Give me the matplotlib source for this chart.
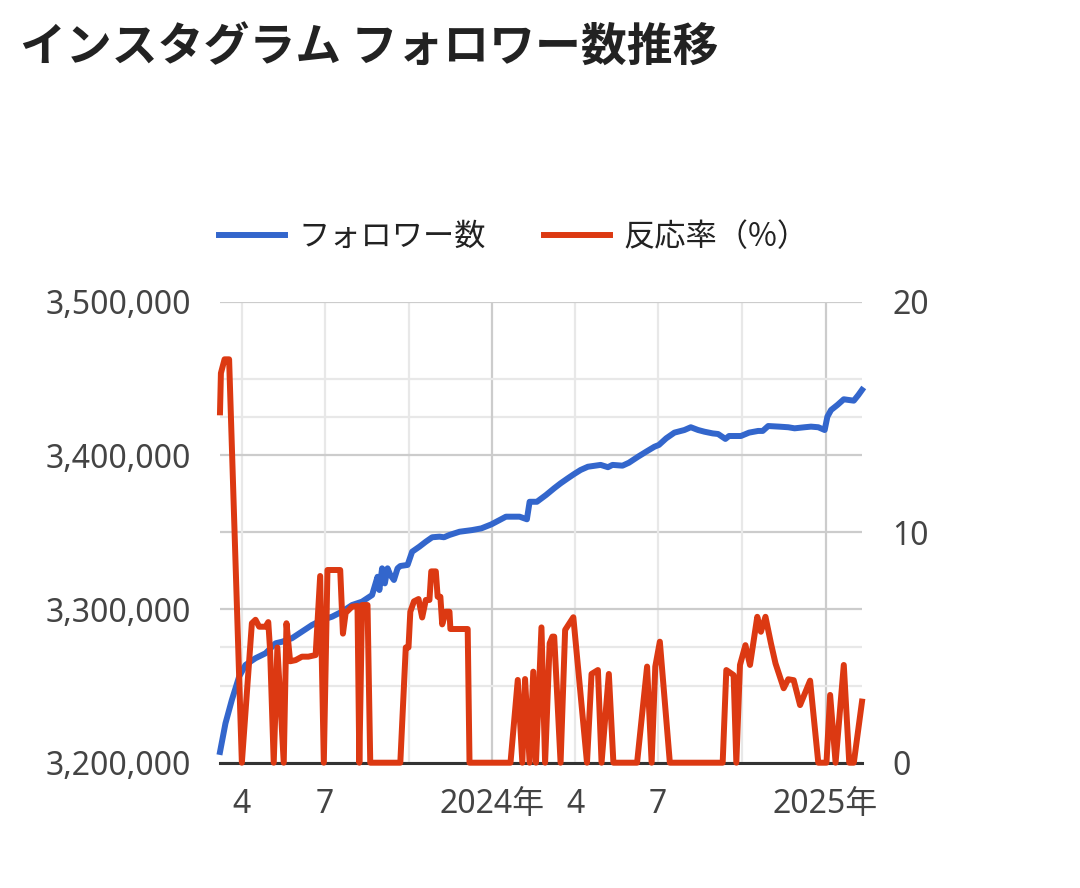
import matplotlib
matplotlib.use("Agg")
import matplotlib.pyplot as plt
import matplotlib.dates as mdates
from matplotlib.ticker import FuncFormatter
import pandas as pd

plt.rcParams['font.family'] = ['Noto Sans CJK JP', 'DejaVu Sans']

title = "インスタグラム フォロワー数推移"
follower_label = "フォロワー数"
rate_label = "反応率（%）"

# フォロワー数 (左軸)
follower_dates = [
    "2023-03-08", "2023-03-14", "2023-03-21", "2023-03-29", "2023-04-05", "2023-04-16",
    "2023-04-27", "2023-05-08", "2023-05-15", "2023-05-26", "2023-06-06", "2023-06-17",
    "2023-06-28", "2023-07-09", "2023-07-20", "2023-07-31", "2023-08-11", "2023-08-22",
    "2023-08-28", "2023-08-30", "2023-09-02", "2023-09-05", "2023-09-08", "2023-09-11",
    "2023-09-15", "2023-09-19", "2023-09-22", "2023-09-30", "2023-10-05", "2023-10-13",
    "2023-10-20", "2023-10-27", "2023-11-04", "2023-11-09", "2023-11-15", "2023-11-26",
    "2023-12-10", "2023-12-20", "2023-12-31", "2024-01-09", "2024-01-16", "2024-01-31",
    "2024-02-08", "2024-02-11", "2024-02-19", "2024-02-29", "2024-03-09", "2024-03-16",
    "2024-03-24", "2024-03-31", "2024-04-07", "2024-04-15", "2024-04-29", "2024-05-07",
    "2024-05-12", "2024-05-23", "2024-05-30", "2024-06-09", "2024-06-18", "2024-06-27",
    "2024-07-02", "2024-07-10", "2024-07-19", "2024-07-30", "2024-08-06", "2024-08-14",
    "2024-08-21", "2024-08-30", "2024-09-05", "2024-09-13", "2024-09-17", "2024-09-30",
    "2024-10-09", "2024-10-19", "2024-10-24", "2024-10-30", "2024-11-11", "2024-11-21",
    "2024-11-28", "2024-12-09", "2024-12-16", "2024-12-24", "2024-12-31", "2025-01-03",
    "2025-01-07", "2025-01-14", "2025-01-21", "2025-01-27", "2025-02-01", "2025-02-06",
    "2025-02-10",
]
follower_values = [
    3207000, 3225600, 3240800, 3256000, 3263600, 3268000,
    3271200, 3277700, 3278700, 3281000, 3285300, 3289600,
    3292900, 3295000, 3298300, 3302600, 3304800, 3309100,
    3321000, 3312400, 3326500, 3316700, 3326500, 3322200,
    3318900, 3326500, 3328000, 3328700, 3337300, 3340600,
    3343800, 3346700, 3347100, 3346700, 3348200, 3350300,
    3351400, 3352500, 3355100, 3357900, 3360100, 3360100,
    3358400, 3369800, 3369800, 3374200, 3378600, 3381800,
    3385100, 3387900, 3390500, 3392600, 3393800, 3392300,
    3393800, 3393300, 3395200, 3399100, 3402400, 3405600,
    3406800, 3411100, 3414800, 3416500, 3418300, 3416500,
    3415400, 3414300, 3413900, 3410700, 3412600, 3412600,
    3414800, 3415900, 3415900, 3419100, 3418700, 3418300,
    3417600, 3418300, 3418700, 3418300, 3416500, 3425200,
    3429500, 3432800, 3436500, 3436000, 3435600, 3439300,
    3442600,
]

# 反応率 (右軸)
rate_dates = [
    "2023-03-08", "2023-03-09", "2023-03-13", "2023-03-18", "2023-04-01", "2023-04-12",
    "2023-04-16", "2023-04-20", "2023-04-27", "2023-04-30", "2023-05-02", "2023-05-06",
    "2023-05-10", "2023-05-17", "2023-05-20", "2023-05-24", "2023-05-30", "2023-06-06",
    "2023-06-13", "2023-06-21", "2023-06-26", "2023-06-30", "2023-07-04", "2023-07-18",
    "2023-07-21", "2023-07-24", "2023-07-31", "2023-08-06", "2023-08-08", "2023-08-11",
    "2023-08-17", "2023-08-20", "2023-09-22", "2023-09-28", "2023-10-01", "2023-10-03",
    "2023-10-07", "2023-10-12", "2023-10-16", "2023-10-20", "2023-10-24", "2023-10-26",
    "2023-10-31", "2023-11-02", "2023-11-05", "2023-11-07", "2023-11-11", "2023-11-15",
    "2023-11-16", "2023-12-05", "2023-12-07", "2024-01-21", "2024-01-29", "2024-02-03",
    "2024-02-06", "2024-02-11", "2024-02-15", "2024-02-18", "2024-02-24", "2024-02-28",
    "2024-03-04", "2024-03-07", "2024-03-09", "2024-03-16", "2024-03-21", "2024-03-30",
    "2024-04-14", "2024-04-19", "2024-04-26", "2024-04-30", "2024-05-08", "2024-05-13",
    "2024-06-08", "2024-06-19", "2024-06-24", "2024-06-28", "2024-07-03", "2024-07-14",
    "2024-09-10", "2024-09-14", "2024-09-22", "2024-09-25", "2024-09-29", "2024-10-05",
    "2024-10-10", "2024-10-18", "2024-10-22", "2024-10-27", "2024-11-02", "2024-11-07",
    "2024-11-16", "2024-11-21", "2024-11-27", "2024-12-04", "2024-12-15", "2024-12-24",
    "2025-01-02", "2025-01-06", "2025-01-12", "2025-01-21", "2025-01-27", "2025-02-01",
    "2025-02-10",
]
rate_values = [
    15.2, 16.9, 17.5, 17.5, 0, 6.05,
    6.2, 5.9, 5.9, 6.1, 4.9, 0,
    5.0, 0, 6.05, 4.4, 4.45, 4.6,
    4.6, 4.67, 8.1, 0, 8.36, 8.36,
    5.6, 6.5, 6.77, 6.8, 0, 6.84,
    6.84, 0, 0, 5.0, 5.0, 6.55,
    7.0, 7.1, 6.3, 7.06, 7.06, 8.3,
    8.3, 7.2, 7.2, 6.0, 6.55, 6.55,
    5.8, 5.8, 0, 0, 3.59, 0,
    3.63, 0, 3.95, 0, 5.87, 0,
    5.18, 5.47, 5.47, 0, 5.76, 6.31,
    0, 3.85, 4.02, 0, 3.85, 0,
    0, 4.17, 0, 4.17, 5.25, 0,
    0, 4.02, 3.8, 0, 4.24, 5.1,
    4.24, 6.33, 5.68, 6.33, 5.18, 4.31,
    3.23, 3.62, 3.58, 2.5, 3.56, 0,
    0, 2.94, 0, 4.24, 0, 0,
    2.65,
]

y1_min, y1_max = 3200000, 3500000
y1_major = [3200000, 3300000, 3400000, 3500000]
y1_minor = [3250000, 3450000]
y2_min, y2_max = 0, 20
y2_major = [0, 10, 20]
y2_minor = [5, 15]

year_ticks = ["2024-01-01", "2025-01-01"]
year_labels = ["2024年", "2025年"]
quarter_ticks = ["2023-04-01", "2023-07-01", "2023-10-01", "2024-04-01", "2024-07-01", "2024-10-01"]
quarter_labels = ["4", "7", "", "4", "7", ""]

BLUE = "#3366cc"
RED = "#dc3912"
GRID_MAJOR = "#cccccc"
GRID_MINOR = "#e8e8e8"
TXT = "#444444"
FS = 23
TICK_FONT = ['Noto Sans', 'Noto Sans CJK JP']

fx = pd.to_datetime(follower_dates)
rx = pd.to_datetime(rate_dates)

fig = plt.figure(figsize=(10.8, 8.88), dpi=100)
ax1 = fig.add_axes([220 / 1080, 1 - 762.7 / 888, 642 / 1080, 461 / 888])
ax2 = ax1.twinx()

ax1.set_ylim(y1_min, y1_max)
ax2.set_ylim(y2_min, y2_max)
ax1.set_xlim(min(fx.min(), rx.min()), max(fx.max(), rx.max()))

# grid lines (all on ax1 so they sit under both series)
ax1.set_yticks(y1_major)
ax1.set_yticks(y1_minor, minor=True)
ax1.set_xticks(pd.to_datetime(year_ticks))
ax1.set_xticks(pd.to_datetime(quarter_ticks), minor=True)
ax1.grid(which="major", color=GRID_MAJOR, linewidth=1.6)
ax1.grid(which="minor", color=GRID_MINOR, linewidth=1.6)
to_y1 = lambda v: y1_min + (v - y2_min) * (y1_max - y1_min) / (y2_max - y2_min)
for v in y2_major[1:-1]:
    ax1.axhline(to_y1(v), color=GRID_MAJOR, linewidth=1.6, zorder=0.5)
for v in y2_minor:
    ax1.axhline(to_y1(v), color=GRID_MINOR, linewidth=1.6, zorder=0.5)
ax1.set_axisbelow(True)

l1, = ax1.plot(fx, follower_values, color=BLUE, linewidth=4.3, label=follower_label,
               clip_on=False, solid_joinstyle="round", zorder=3)
l2, = ax2.plot(rx, rate_values, color=RED, linewidth=4.3, label=rate_label,
               clip_on=False, solid_joinstyle="round", zorder=3)

ax1.yaxis.set_major_formatter(FuncFormatter(lambda v, p: f"{v:,.0f}"))
ax1.set_xticklabels(year_labels)
ax1.set_xticklabels(quarter_labels, minor=True)
ax2.set_yticks(y2_major)

for ax in (ax1, ax2):
    for s in ax.spines.values():
        s.set_visible(False)
    ax.tick_params(which="both", length=0, labelsize=FS, labelcolor=TXT)
    for t in ax.get_xticklabels(which="both") + ax.get_yticklabels():
        t.set_family(TICK_FONT)
ax1.spines["bottom"].set_visible(True)
ax1.spines["bottom"].set_color("#333333")
ax1.spines["bottom"].set_linewidth(2.2)
ax1.tick_params(axis="y", pad=21)
ax1.tick_params(axis="x", which="both", pad=18)
ax2.tick_params(axis="y", pad=22)

fig.legend(handles=[l1, l2], loc="center left", bbox_to_anchor=(219 / 1080, 1 - 237 / 888),
           ncol=2, frameon=False, fontsize=22.5, handlelength=2.1, handletextpad=0.45,
           columnspacing=1.85, borderpad=0, borderaxespad=0, labelcolor="#222222")

fig.text(20 / 1080, 1 - 49 / 888, title, fontsize=33, fontweight="bold",
         color="#222222", va="center", ha="left")

fig.savefig("out.png", dpi=100, facecolor="white")
